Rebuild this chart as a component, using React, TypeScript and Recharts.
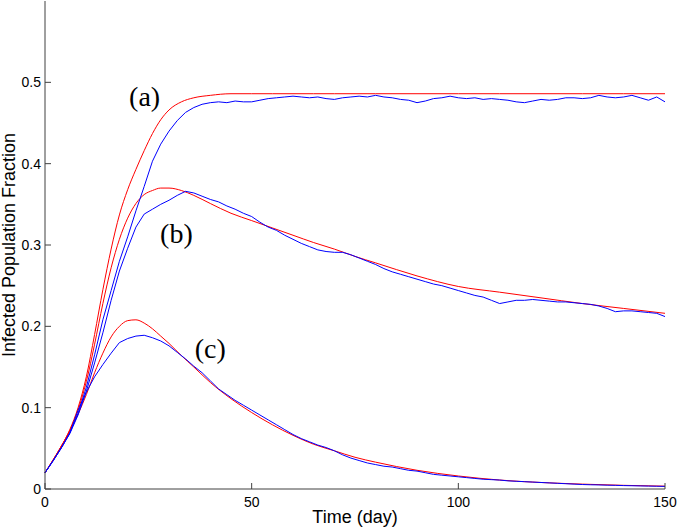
import { LineChart, Line, XAxis, YAxis, ReferenceDot } from "recharts";

// smooth model curves (red)
const RED_DAYS = [0, 2, 4, 6, 8, 10, 12, 14, 16, 18, 20, 22, 24, 26, 28, 30, 33, 36, 40, 45, 50, 55, 60, 65, 70, 75, 80, 90, 100, 110, 120, 130, 140, 150];
const RED_A = [
  0.02, 0.036, 0.053, 0.073, 0.1, 0.138, 0.19, 0.245, 0.295, 0.337, 0.368, 0.393, 0.416, 0.437, 0.454, 0.466, 0.476, 0.481, 0.484, 0.486,
  0.486, 0.486, 0.486, 0.486, 0.486, 0.486, 0.486, 0.486, 0.486, 0.486, 0.486, 0.486, 0.486, 0.486,
];
const RED_B = [
  0.02, 0.036, 0.053, 0.072, 0.097, 0.132, 0.178, 0.228, 0.272, 0.307, 0.333, 0.351, 0.362, 0.367, 0.37, 0.37, 0.367, 0.361, 0.351, 0.339,
  0.33, 0.321, 0.312, 0.303, 0.295, 0.286, 0.278, 0.262, 0.249, 0.242, 0.235, 0.228, 0.222, 0.216,
];
const RED_C = [
  0.02, 0.036, 0.053, 0.071, 0.092, 0.116, 0.143, 0.167, 0.187, 0.2, 0.207, 0.208, 0.204, 0.197, 0.188, 0.179, 0.164, 0.15, 0.131, 0.111,
  0.094, 0.079, 0.066, 0.055, 0.047, 0.039, 0.033, 0.023, 0.016, 0.011, 0.008, 0.006, 0.0045, 0.0035,
];

// stochastic simulation runs (blue), one value every 2 days
const BLUE_DAYS = Array.from({ length: 76 }, (_, i) => i * 2);
const BLUE_A = [
  0.02, 0.035, 0.051, 0.069, 0.093, 0.125, 0.165, 0.208, 0.244, 0.28,
  0.31, 0.342, 0.372, 0.403, 0.424, 0.44, 0.453, 0.463, 0.469, 0.473,
  0.475, 0.476, 0.475, 0.477, 0.476, 0.476, 0.478, 0.48, 0.481, 0.482,
  0.483, 0.482, 0.481, 0.482, 0.48, 0.479, 0.481, 0.482, 0.483, 0.482,
  0.484, 0.482, 0.481, 0.479, 0.478, 0.475, 0.477, 0.48, 0.481, 0.483,
  0.481, 0.48, 0.481, 0.479, 0.48, 0.479, 0.478, 0.476, 0.475, 0.477,
  0.479, 0.478, 0.479, 0.481, 0.481, 0.48, 0.481, 0.484, 0.482, 0.481,
  0.482, 0.484, 0.481, 0.478, 0.482, 0.476,
];
const BLUE_B = [
  0.02, 0.035, 0.051, 0.068, 0.091, 0.12, 0.155, 0.192, 0.232, 0.268,
  0.296, 0.322, 0.338, 0.344, 0.35, 0.355, 0.361, 0.366, 0.364, 0.36,
  0.356, 0.353, 0.348, 0.344, 0.339, 0.335, 0.328, 0.322, 0.318, 0.312,
  0.307, 0.302, 0.298, 0.294, 0.292, 0.291, 0.291, 0.288, 0.284, 0.28,
  0.276, 0.271, 0.267, 0.264, 0.261, 0.258, 0.255, 0.252, 0.25, 0.247,
  0.244, 0.241, 0.238, 0.236, 0.232, 0.228, 0.23, 0.232, 0.232, 0.233,
  0.232, 0.231, 0.23, 0.23, 0.229, 0.228, 0.227, 0.225, 0.222, 0.218,
  0.219, 0.219, 0.218, 0.217, 0.216, 0.212,
];
const BLUE_C = [
  0.02, 0.035, 0.051, 0.069, 0.097, 0.119, 0.138, 0.153, 0.167, 0.18,
  0.185, 0.188, 0.189, 0.186, 0.182, 0.176, 0.168, 0.16, 0.151, 0.143,
  0.133, 0.123, 0.116, 0.109, 0.103, 0.097, 0.091, 0.085, 0.079, 0.073,
  0.067, 0.062, 0.058, 0.054, 0.051, 0.047, 0.042, 0.038, 0.035, 0.032,
  0.03, 0.028, 0.027, 0.025, 0.023, 0.022, 0.02, 0.018, 0.017, 0.016,
  0.015, 0.014, 0.013, 0.012, 0.0115, 0.011, 0.01, 0.0095, 0.009, 0.0085,
  0.008, 0.0075, 0.007, 0.0065, 0.006, 0.0055, 0.0052, 0.005, 0.0047, 0.0045,
  0.0042, 0.004, 0.0038, 0.0036, 0.0034, 0.0032,
];

const X_TICKS = [0, 50, 100, 150];
const Y_TICKS = [0, 0.1, 0.2, 0.3, 0.4, 0.5];

const TAGS = [
  { text: "(a)", day: 24.1, value: 0.471 },
  { text: "(b)", day: 31.8, value: 0.302 },
  { text: "(c)", day: 40, value: 0.161 },
];

const toPoints = (days: number[], values: number[]) => days.map((day, i) => ({ day, value: values[i] }));

const RED = [RED_A, RED_B, RED_C].map((v) => toPoints(RED_DAYS, v));
const BLUE = [BLUE_A, BLUE_B, BLUE_C].map((v) => toPoints(BLUE_DAYS, v));

const AXIS = "#404040";
const SANS = "'Liberation Sans', Arial, sans-serif";
const tickStyle = { fill: "#000", fontSize: 14, fontFamily: SANS };

export default function App() {
  return (
    <div style={{ position: "absolute", left: 0, top: 0, background: "#fff" }}>
      <LineChart width={677} height={530} margin={{ top: 1, right: 12, bottom: 0, left: 0 }}>
        <XAxis
          dataKey="day"
          type="number"
          domain={[0, 150]}
          ticks={X_TICKS}
          height={41}
          tickSize={-6}
          tickMargin={14}
          axisLine={{ stroke: AXIS }}
          tickLine={{ stroke: AXIS }}
          tick={tickStyle}
          allowDuplicatedCategory={false}
          label={(props: any) => {
            const vb = props.viewBox;
            return (
              <text x={vb.x + vb.width / 2} y={vb.y + 34} textAnchor="middle" fontSize={18} fontFamily={SANS} fill="#000">
                Time (day)
              </text>
            );
          }}
        />
        <XAxis
          xAxisId="top"
          orientation="top"
          dataKey="day"
          type="number"
          domain={[0, 150]}
          ticks={X_TICKS}
          height={0}
          tickSize={-6}
          axisLine={{ stroke: "#9a9a9a" }}
          tickLine={{ stroke: AXIS }}
          tickFormatter={() => ""}
        />
        <YAxis
          type="number"
          domain={[0, 0.6]}
          ticks={Y_TICKS}
          width={45}
          tickSize={-6}
          tickMargin={10}
          axisLine={{ stroke: AXIS }}
          tickLine={{ stroke: AXIS }}
          tick={tickStyle}
          tickFormatter={(v: number) => (v === 0 ? "0" : v.toFixed(1))}
          label={(props: any) => {
            const vb = props.viewBox;
            const cx = vb.x + 15;
            const cy = vb.y + vb.height / 2;
            return (
              <text x={cx} y={cy} transform={`rotate(-90 ${cx} ${cy})`} textAnchor="middle" fontSize={18} fontFamily={SANS} fill="#000">
                Infected Population Fraction
              </text>
            );
          }}
        />
        <YAxis
          yAxisId="right"
          orientation="right"
          type="number"
          domain={[0, 0.6]}
          ticks={Y_TICKS}
          width={0}
          tickSize={-6}
          axisLine={{ stroke: AXIS }}
          tickLine={{ stroke: AXIS }}
          tickFormatter={() => ""}
        />
        {RED.map((pts, i) => (
          <Line
            key={`r${i}`}
            data={pts}
            dataKey="value"
            type="monotone"
            stroke="#ff0000"
            strokeWidth={1}
            dot={false}
            isAnimationActive={false}
          />
        ))}
        {BLUE.map((pts, i) => (
          <Line
            key={`b${i}`}
            data={pts}
            dataKey="value"
            type="linear"
            stroke="#0000ff"
            strokeWidth={1}
            dot={false}
            isAnimationActive={false}
          />
        ))}
        {TAGS.map((t) => (
          <ReferenceDot
            key={t.text}
            x={t.day}
            y={t.value}
            r={0}
            shape={(p: any) => (
              <text x={p.cx} y={p.cy} textAnchor="middle" fontSize={28} fontFamily="'Liberation Serif', 'Times New Roman', serif" fill="#000">
                {t.text}
              </text>
            )}
          />
        ))}
      </LineChart>
    </div>
  );
}
